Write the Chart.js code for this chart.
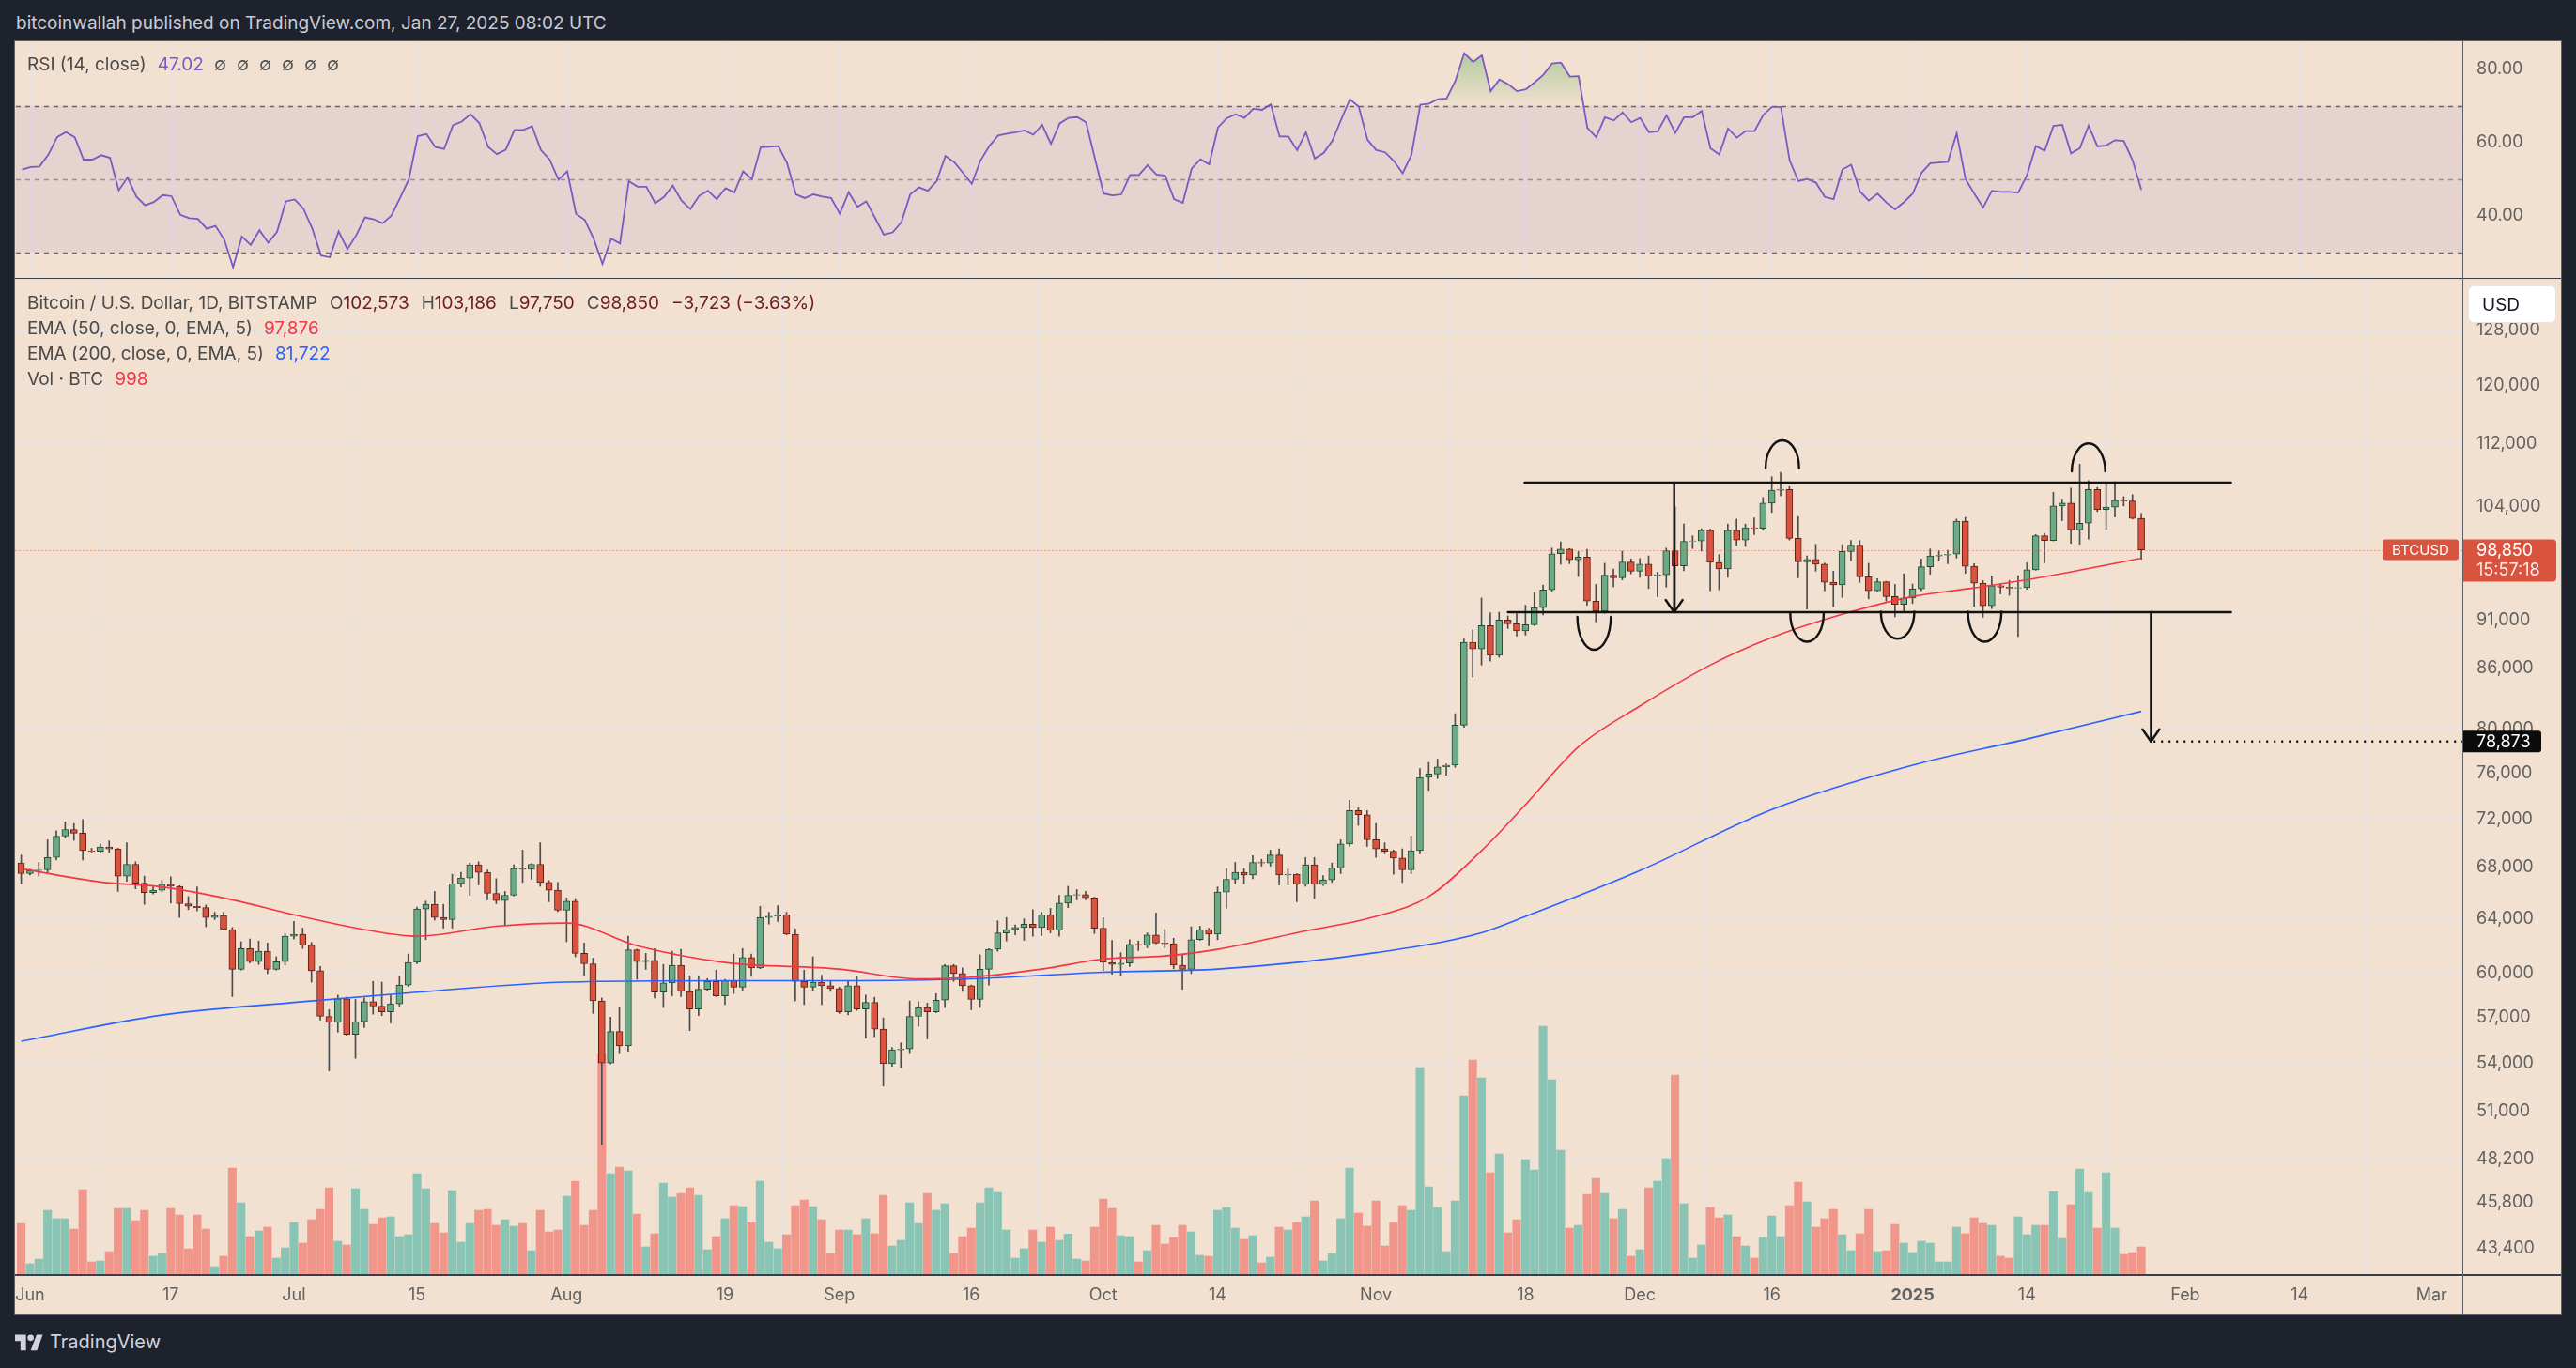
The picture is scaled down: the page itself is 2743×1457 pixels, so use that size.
<!DOCTYPE html>
<html>
<head>
<meta charset="utf-8">
<title>BTCUSD 1D</title>
<script src="https://cdn.jsdelivr.net/npm/chart.js@4.4.1/dist/chart.umd.min.js"></script>
<style>
  html, body { margin: 0; padding: 0; }
  body { width: 2743px; height: 1457px; background: #1e222d; position: relative; overflow: hidden; font-family: Inter, Roboto, sans-serif; }
  #header { position: absolute; left: 17px; top: 13px; font-size: 19px; color: #c9ccd6; white-space: nowrap; }
  #frame { position: absolute; left: 15px; top: 43px; width: 2711px; height: 1356px; background: #f2e0d0; border: 1px solid #5d606b; }
  canvas { position: absolute; left: 16px; }
  #rsiCanvas { top: 44px; }
  #priceCanvas { top: 297px; }
  .rule { position: absolute; background: #3b3e48; }
  .legend { position: absolute; left: 29px; font-size: 19px; color: #4a4a4a; white-space: nowrap; line-height: 27px; }
  .legend .val { margin-left: 12px; }
  .legend .ohlc { color: #6e1e1e; }
  .legend .gap { margin-left: 13px; }
  .na { margin-left: 11px; color: #555; }
  #logo { position: absolute; left: 16px; top: 1417px; display: flex; align-items: center; color: #d1d4dc; font-size: 20px; }
  #logo svg { margin-right: 7px; }
</style>
</head>
<body>
<div id="header">bitcoinwallah published on TradingView.com, Jan 27, 2025 08:02 UTC</div>
<div id="frame"></div>
<canvas id="rsiCanvas" width="2711" height="252"></canvas>
<canvas id="priceCanvas" width="2711" height="1103"></canvas>
<div class="rule" style="left:16px;top:296px;width:2711px;height:1px;"></div>
<div class="rule" style="left:16px;top:1357px;width:2711px;height:2px;"></div>
<div class="rule" style="left:2622px;top:44px;width:1px;height:1356px;background:#5d606b;"></div>

<div class="legend" style="top:56px;line-height:26px;">
  RSI (14, close)<span class="val" id="rsiVal" style="color:#7e57c2"></span><span id="rsiNa"></span>
</div>
<div class="legend" style="top:309px;">
  <div>Bitcoin / U.S. Dollar, 1D, BITSTAMP<span class="gap"></span><span id="ohlc"></span></div>
  <div>EMA (50, close, 0, EMA, 5)<span class="val" id="emaFastVal" style="color:#f23645"></span></div>
  <div>EMA (200, close, 0, EMA, 5)<span class="val" id="emaSlowVal" style="color:#2962ff"></span></div>
  <div>Vol · BTC<span class="val" id="volVal" style="color:#f23645"></span></div>
</div>
<div id="logo">
  <svg width="30" height="22" viewBox="0 0 36 26"><path d="M14 24H7V12H0V4h14v20z" fill="#d1d4dc"/><circle cx="20" cy="8" r="4" fill="#d1d4dc"/><path d="M28 24h-8l7.5-20h8L28 24z" fill="#d1d4dc"/></svg>
  <span>TradingView</span>
</div>

<script>
// ---- data: daily candles, first candle is May 31 2024 (day 0 = Jun 1 2024) ----
const firstDay = -1;

const opens = [
  68350,
  67500, 67750, 67800, 68800, 70550, 71100, 70800, 69350, 69300, 69650, 69500, 67300, 68250, 66750, 66000, 66200, 66650, 66500, 65150, 64950, 64850, 64100, 64250, 63200, 60300, 61800, 60850, 61600, 60300, 60850,
  62700, 62850, 62050, 60200, 57050, 56650, 58250, 55850, 56700, 58050, 57750, 57350, 57900, 59200, 60800, 64750, 65100, 64100, 63950, 66700, 67150, 68200, 67600, 65950, 65400, 65800, 67900, 67850, 68250, 66800, 66200,
  64650, 65350, 61450, 60700, 58100, 54000, 56050, 55100, 61700, 60850, 60950, 58700, 59350, 60600, 58750, 57550, 58900, 59450, 58450, 59500, 59050, 61150, 60400, 64100, 64200, 64300, 62850, 59450, 59050, 59400, 59150,
  58950, 57350, 59150, 57550, 58000, 56200, 53950, 54850, 54900, 57050, 57650, 57350, 58150, 60550, 60000, 59150, 58200, 60300, 61750, 62950, 63200, 63350, 63600, 63350, 64300, 63150, 65200, 65800, 65850, 65600,
  63300, 60800, 60650, 60750, 62100, 62050, 62800, 62200, 62150, 60600, 60300, 62450, 63200, 62850, 66050, 67050, 67600, 67400, 68400, 68350, 69000, 67400, 67450, 66650, 68200, 66650, 67000, 67950, 69900, 72700, 72350,
  70250, 69500, 69300, 68750, 67800, 69350, 75600, 75900, 76550, 76700, 80400, 88650, 87950, 90400, 87300, 91000, 90600, 89850, 90500, 92350, 94300, 98400, 98950, 97700, 98000, 93050, 91950, 95950, 95650, 97450,
  96400, 97200, 95850, 96000, 98750, 97000, 99850, 99900, 101150, 97400, 96650, 101150, 100000, 101450, 101400, 104450, 106050, 106150, 100200, 97450, 97750, 97200, 95150, 94850, 98650, 99400, 95750, 94200, 95200, 93550, 92700,
  93400, 94400, 96900, 98150, 98250, 98350, 102250, 96950, 95050, 92550, 94750, 94600, 94500, 94550, 96550, 100500, 99950, 104100, 104450, 101200, 102000, 106150, 103650, 103950, 104800, 104700, 102573
];
const highs = [
  69000,
  67850, 68400, 70250, 71000, 71750, 71600, 71950, 69550, 69900, 70150, 69550, 70000, 68450, 67300, 66450, 66950, 67250, 66550, 65700, 66450, 65050, 64500, 64500, 63350, 62300, 62500, 62350, 62200, 61200, 62900,
  63800, 63300, 62250, 60500, 57500, 58500, 58350, 58200, 58300, 59450, 59400, 58500, 59800, 61400, 64900, 65350, 66100, 65100, 67450, 67600, 68350, 68450, 67800, 67100, 66100, 68200, 69400, 68300, 70000, 66950, 66800,
  65600, 65550, 62200, 61100, 58300, 57000, 57700, 62700, 61750, 61450, 61800, 60650, 61600, 61750, 59850, 59800, 59650, 60250, 59600, 61400, 61800, 61400, 64950, 64500, 65000, 64500, 63250, 60250, 61200, 59900, 59450,
  59050, 59450, 59800, 58500, 58350, 56950, 55000, 55300, 58100, 58050, 57950, 58600, 60650, 60650, 60400, 59200, 61350, 61800, 63850, 64100, 63550, 64000, 64700, 64500, 64800, 65800, 66500, 66250, 66100, 65650,
  64100, 62400, 61500, 62450, 62350, 62950, 64450, 63200, 62550, 61350, 63400, 63450, 63300, 66450, 67900, 68400, 67900, 68950, 68650, 69400, 69500, 67850, 67500, 68800, 68800, 67350, 68350, 70250, 73600, 72950, 72700,
  71600, 70000, 69400, 69500, 70550, 76400, 76950, 77250, 76800, 81500, 89000, 89950, 93400, 91800, 91850, 91450, 91700, 92600, 94000, 94850, 99050, 99800, 99000, 98650, 98900, 94900, 97300, 96650, 98700, 97800,
  97850, 98150, 96300, 99050, 104000, 101900, 100500, 101350, 101300, 98300, 101900, 102500, 101900, 102650, 105150, 107750, 108300, 106500, 102800, 98150, 99500, 97300, 96400, 99450, 99950, 99950, 97300, 95550, 95250, 94900, 96100,
  94950, 97800, 98950, 98750, 98800, 102500, 102700, 97250, 95350, 95850, 94950, 95350, 95900, 97350, 100650, 100800, 105800, 104950, 106300, 109350, 107250, 106400, 106800, 107100, 105250, 105500, 103186
];
const lows = [
  66700,
  67400, 67300, 67600, 68600, 70400, 70200, 68600, 69200, 69150, 69200, 66100, 66900, 66300, 65100, 65900, 66050, 65200, 64100, 64700, 64600, 63400, 63950, 63150, 58400, 60250, 60750, 60650, 60000, 60250, 60600,
  62500, 61800, 59400, 56800, 53500, 56000, 55800, 54300, 56300, 57200, 57100, 56600, 57750, 59100, 60700, 62450, 63900, 63300, 63300, 66450, 65800, 66600, 65450, 65150, 63500, 65750, 66800, 67050, 66500, 65300, 64550,
  62300, 61200, 59850, 57250, 49050, 53950, 54600, 54750, 59600, 60300, 58300, 57650, 58450, 58400, 56100, 57100, 58800, 58400, 57850, 58600, 58800, 59800, 60350, 63600, 63800, 62800, 58100, 57850, 58800, 57850, 58750,
  57250, 57150, 57450, 55600, 55700, 52550, 53800, 53700, 54600, 56400, 55550, 57300, 57650, 59450, 58750, 57500, 57650, 59200, 61600, 62350, 62800, 62400, 62700, 62750, 62950, 62700, 64850, 65450, 65450, 62900,
  60200, 59950, 59850, 60500, 61650, 61850, 62150, 61850, 60350, 58900, 60000, 62400, 62000, 62450, 64800, 66700, 66700, 67100, 68100, 68100, 66600, 66600, 65300, 66500, 65550, 66550, 66800, 67500, 69700, 71450, 69700,
  68800, 69100, 67450, 66800, 67500, 69100, 74450, 75500, 75800, 76500, 80200, 85100, 86300, 86700, 87100, 90100, 89300, 89400, 90400, 91550, 94150, 97200, 97250, 95800, 92600, 90800, 91750, 94650, 95400, 96100,
  95700, 94450, 93550, 94600, 92200, 96450, 99000, 98700, 94200, 94300, 95700, 99350, 99250, 100650, 101250, 103300, 105350, 100000, 95650, 92200, 96400, 94200, 92450, 93450, 97600, 95150, 93300, 94150, 93050, 91350, 92000,
  92800, 94200, 96050, 97550, 97250, 97900, 96150, 92500, 91300, 92250, 93850, 93700, 89250, 94350, 96500, 97350, 99900, 102300, 99600, 99500, 100100, 103400, 101250, 102750, 104100, 102500, 97750
];
const closes = [
  67500,
  67750, 67800, 68800, 70550, 71100, 70800, 69350, 69300, 69650, 69500, 67300, 68250, 66750, 66000, 66200, 66650, 66500, 65150, 64950, 64850, 64100, 64250, 63200, 60300, 61800, 60850, 61600, 60300, 60850, 62700,
  62850, 62050, 60200, 57050, 56650, 58250, 55850, 56700, 58050, 57750, 57350, 57900, 59200, 60800, 64750, 65100, 64100, 63950, 66700, 67150, 68200, 67600, 65950, 65400, 65800, 67900, 67850, 68250, 66800, 66200, 64650,
  65350, 61450, 60700, 58100, 54000, 56050, 55100, 61700, 60850, 60950, 58700, 59350, 60600, 58750, 57550, 58900, 59450, 58450, 59500, 59050, 61150, 60400, 64100, 64200, 64300, 62850, 59450, 59050, 59400, 59150, 58950,
  57350, 59150, 57550, 58000, 56200, 53950, 54850, 54900, 57050, 57650, 57350, 58150, 60550, 60000, 59150, 58200, 60300, 61750, 62950, 63200, 63350, 63600, 63350, 64300, 63150, 65200, 65800, 65850, 65600, 63300,
  60800, 60650, 60750, 62100, 62050, 62800, 62200, 62150, 60600, 60300, 62450, 63200, 62850, 66050, 67050, 67600, 67400, 68400, 68350, 69000, 67400, 67450, 66650, 68200, 66650, 67000, 67950, 69900, 72700, 72350, 70250,
  69500, 69300, 68750, 67800, 69350, 75600, 75900, 76550, 76700, 80400, 88650, 87950, 90400, 87300, 91000, 90600, 89850, 90500, 92350, 94300, 98400, 98950, 97700, 98000, 93050, 91950, 95950, 95650, 97450, 96400,
  97200, 95850, 96000, 98750, 97000, 99850, 99900, 101150, 97400, 96650, 101150, 100000, 101450, 101400, 104450, 106050, 106150, 100200, 97450, 97750, 97200, 95150, 94850, 98650, 99400, 95750, 94200, 95200, 93550, 92700, 93400,
  94400, 96900, 98150, 98250, 98350, 102250, 96950, 95050, 92550, 94750, 94600, 94500, 94550, 96550, 100500, 99950, 104100, 104450, 101200, 102000, 106150, 103650, 103950, 104800, 104700, 102573, 98850
];

// volume in BTC, same days
const volumes = [
  1858,
  379, 551, 2340, 2030, 2030, 1652, 3097, 447, 482, 826, 2409, 2409, 1961, 2340, 654, 757, 2409, 2168, 929, 2168, 1652, 275, 654, 3888, 2615, 1376, 1583, 1721, 585, 963,
  1893, 1136, 1996, 2374, 3166, 1204, 1067, 3131, 2374, 1824, 2065, 2099, 1376, 1445, 3682, 3131, 1858, 1514, 3062, 1170, 1858, 2340, 2374, 1789, 1996, 1755, 1858, 860, 2340, 1548, 1617,
  2856, 3407, 1789, 2340, 8052, 3682, 3923, 3785, 2202, 998, 1480, 3338, 2822, 2959, 3166, 2890, 895, 1376, 2030, 2512, 2478, 1893, 3407, 1170, 929, 1445, 2512, 2718, 2478, 1996, 757,
  1617, 1617, 1445, 2030, 1480, 2890, 1032, 1239, 2615, 1858, 2959, 2340, 2581, 757, 1376, 1686, 2615, 3166, 2994, 1617, 585, 929, 1617, 1170, 1721, 1239, 1468, 551, 482, 1721,
  2753, 2409, 1411, 1376, 447, 860, 1789, 1101, 1342, 1789, 1548, 688, 654, 2340, 2443, 1686, 1273, 1411, 413, 619, 1721, 1617, 1893, 2099, 2684, 482, 757, 2030, 3888, 2237, 1755,
  2684, 1032, 1893, 2512, 2340, 7570, 3200, 2443, 826, 2684, 6538, 7845, 7192, 3716, 4404, 1514, 1996, 4198, 3820, 9084, 7123, 4542, 1686, 1789, 2925, 3510, 2959, 2030, 2374, 654,
  895, 3166, 3407, 4232, 7295, 2581, 585, 1067, 2443, 2065, 2168, 1376, 1032, 585, 1342, 2133, 1376, 2512, 3372, 2650, 1721, 2030, 2374, 1445, 860, 1480, 2374, 826, 860, 1824, 1136,
  791, 1204, 1136, 447, 447, 1721, 1480, 2065, 1858, 1789, 654, 585, 2099, 1445, 1789, 1789, 3028, 1308, 2546, 3854, 2994, 1686, 3716, 1686, 723, 791, 998
];

// RSI (14) per day
const rsiValues = [
  52.6, 53.3, 53.4, 56.7, 61.5, 62.8, 61.4, 55.3, 55.3, 56.5, 55.8,
  46.9, 50.4, 45.2, 42.8, 43.7, 45.6, 45.3, 40.2, 39.3, 39.1,
  36.4, 37.2, 33.4, 25.9, 34.3, 32.0, 36.0, 32.6, 35.6, 43.9,
  44.4, 41.9, 36.5, 29.1, 28.6, 35.7, 30.8, 34.6, 39.5, 39.0,
  37.9, 40.0, 44.9, 50.0, 61.7, 62.3, 58.7, 58.2, 64.7, 65.7,
  67.7, 65.3, 58.8, 56.8, 58.0, 63.4, 63.4, 64.4, 57.9, 55.3,
  49.8, 52.1, 40.5, 38.8, 33.7, 26.8, 33.7, 32.4, 49.4, 47.9,
  47.9, 43.4, 45.1, 48.2, 44.1, 41.8, 45.4, 46.8, 44.5, 47.5,
  46.3, 52.1, 50.0, 58.7, 58.8, 59.0, 54.3, 45.8, 44.8, 45.8,
  45.2, 44.8, 40.5, 46.4, 42.4, 43.9, 39.4, 34.8, 35.4, 38.2,
  45.8, 47.7, 46.8, 49.4, 56.3, 54.6, 51.7, 48.7, 55.1, 59.0,
  61.9, 62.4, 62.8, 63.3, 62.1, 64.8, 59.6, 65.2, 66.7, 66.9,
  65.5, 55.6, 46.0, 45.5, 45.8, 51.1, 51.1, 53.8, 51.2, 50.9,
  44.5, 43.5, 52.8, 55.4, 54.0, 64.1, 66.6, 67.7, 66.7, 69.2,
  68.9, 70.4, 61.6, 61.6, 57.9, 62.8, 55.6, 57.1, 60.4, 66.2,
  71.8, 69.8, 60.7, 57.9, 57.3, 54.9, 51.6, 56.6, 70.3, 70.6,
  71.8, 72.0, 76.9, 84.4, 82.0, 83.8, 74.0, 77.2, 75.9, 74.0,
  74.5, 76.4, 78.5, 81.6, 81.8, 78.0, 78.1, 64.0, 61.4, 66.9,
  66.0, 68.2, 65.5, 66.7, 62.8, 63.0, 67.4, 62.6, 66.9, 66.9,
  68.6, 58.4, 56.7, 63.8, 61.3, 63.1, 63.1, 67.5, 69.7, 69.7,
  55.1, 49.4, 50.0, 49.0, 45.1, 44.5, 52.6, 53.9, 46.6, 44.1,
  46.0, 43.6, 41.7, 43.7, 46.0, 51.7, 54.3, 54.5, 54.7, 62.5,
  50.0, 46.0, 42.2, 46.8, 46.5, 46.5, 46.3, 51.1, 59.0, 57.7,
  64.5, 64.8, 57.0, 58.4, 64.6, 58.9, 59.2, 60.6, 60.4, 55.1, 47.02
];

// moving averages (day, value)
const emaFastDays = [-1, 8, 15, 23, 30, 38, 44, 53, 61, 69, 79, 92, 101, 107, 115, 122, 129, 135, 144, 153, 159, 165, 170, 176, 183, 191, 198, 206, 214, 221, 227, 234, 240];
const emaFastValues = [67900, 66840, 66450, 65450, 64310, 63200, 62700, 63440, 63680, 62000, 60790, 60320, 59630, 59750, 60320, 61030, 61260, 61740, 62960, 64180, 65700, 69340, 73210, 78360, 82230, 86300, 89150, 91620, 93560, 94520, 95420, 96700, 97876];
const emaSlowDays = [-1, 15, 30, 44, 61, 79, 92, 107, 122, 135, 153, 165, 170, 183, 198, 214, 227, 240];
const emaSlowValues = [55400, 57140, 58000, 58700, 59400, 59500, 59500, 59630, 60100, 60320, 61500, 62960, 64180, 67740, 72800, 76700, 79100, 81722];

// axes
const timeTickDays = [0, 16, 30, 44, 61, 79, 92, 107, 122, 135, 153, 170, 183, 198, 214, 227, 245, 258, 273];
const timeTickLabels = ['Jun', '17', 'Jul', '15', 'Aug', '19', 'Sep', '16', 'Oct', '14', 'Nov', '18', 'Dec', '16', '2025', '14', 'Feb', '14', 'Mar'];
const yearTickDay = 214;
const priceTicks = [43400, 45800, 48200, 51000, 54000, 57000, 60000, 64000, 68000, 72000, 76000, 80000, 86000, 91000, 98000, 104000, 112000, 120000, 128000];
const rsiTicks = [40, 60, 80];
const rsiLevels = [70, 50, 30];

// hand-drawn pattern (day, price)
const rangeLines = [
  { from: 169.9, to: 250.2, price: 107000 },
  { from: 168.0, to: 250.2, price: 91850 }
];
const measureArrows = [
  { day: 186.9, from: 107000, to: 91850 },
  { day: 241.1, from: 91850, to: 78873 }
];
const targetLevel = { from: 241.4, price: 78873 };
const capArcs = [
  { day: 199.2, half: 1.9, base: 108840, peak: 112460 },
  { day: 234.0, half: 1.9, base: 108430, peak: 112050 }
];
const cupArcs = [
  { day: 177.8, half: 1.9, base: 91350, trough: 87870 },
  { day: 202.0, half: 1.9, base: 91730, trough: 88700 },
  { day: 212.3, half: 1.9, base: 91900, trough: 89020 },
  { day: 222.2, half: 1.9, base: 91900, trough: 88700 }
];
const countdown = '15:57:18';

// ---- style ----
const FONT = 'Inter, Roboto, sans-serif';
const AXIS_TEXT = '#626262';
const GRID = 'rgba(225,228,240,0.55)';
const UP_BODY = '#6ca987', UP_BORDER = '#1f4a31';
const DOWN_BODY = '#d9533f', DOWN_BORDER = '#5e1e14';
const WICK = '#4d4d4d';
const VOL_UP = '#8ac4b5', VOL_DOWN = '#f1968a';
const xMin = -1.7, xMax = 276.5;
const AXIS_W = 105;

Chart.defaults.font.family = FONT;
Chart.defaults.animation = false;

const fmt = (v) => Math.round(v).toLocaleString('en-US');
const days = closes.map((_, i) => firstDay + i);
const isUp = (i) => closes[i] >= opens[i];

// legends
const last = closes.length - 1;
const change = closes[last] - closes[last - 1];
const pct = (change / closes[last - 1]) * 100;
document.getElementById('rsiVal').textContent = rsiValues[last].toFixed(2);
document.getElementById('rsiNa').innerHTML = Array(6).fill('<span class="na">\u2205</span>').join('');
document.getElementById('ohlc').innerHTML =
  'O<span class="ohlc">' + fmt(opens[last]) + '</span><span class="gap"></span>' +
  'H<span class="ohlc">' + fmt(highs[last]) + '</span><span class="gap"></span>' +
  'L<span class="ohlc">' + fmt(lows[last]) + '</span><span class="gap"></span>' +
  'C<span class="ohlc">' + fmt(closes[last]) + '</span><span class="gap"></span>' +
  '<span class="ohlc">' + (change < 0 ? '\u2212' : '+') + fmt(Math.abs(change)) + ' (' + (pct < 0 ? '\u2212' : '+') + Math.abs(pct).toFixed(2) + '%)</span>';
document.getElementById('emaFastVal').textContent = fmt(emaFastValues[emaFastValues.length - 1]);
document.getElementById('emaSlowVal').textContent = fmt(emaSlowValues[emaSlowValues.length - 1]);
document.getElementById('volVal').textContent = fmt(volumes[last]);

// shared time axis
const timeAxis = (showLabels) => ({
  type: 'linear',
  min: xMin,
  max: xMax,
  offset: false,
  afterBuildTicks: (axis) => { axis.ticks = timeTickDays.map((v) => ({ value: v })); },
  afterFit: (axis) => {
    axis.height = showLabels ? 43 : 0;
    axis.paddingLeft = 0; axis.paddingRight = 0;
  },
  grid: { color: GRID, drawTicks: false },
  border: { display: false },
  ticks: {
    display: showLabels,
    autoSkip: false,
    maxRotation: 0,
    padding: 12,
    color: AXIS_TEXT,
    font: (ctx) => ({ family: FONT, size: 18, weight: ctx.tick && ctx.tick.value === yearTickDay ? '700' : '400' }),
    callback: (v) => timeTickLabels[timeTickDays.indexOf(v)] ?? ''
  }
});

// ---- RSI pane ----
const rsiBands = {
  id: 'rsiBands',
  beforeDatasetsDraw(chart) {
    const { ctx, chartArea: a, scales: { y } } = chart;
    const top = y.getPixelForValue(rsiLevels[0]);
    const bottom = y.getPixelForValue(rsiLevels[2]);
    ctx.save();
    ctx.fillStyle = 'rgba(126,87,194,0.1)';
    ctx.fillRect(a.left, top, a.width, bottom - top);
    ctx.lineWidth = 1.5;
    rsiLevels.forEach((lvl, i) => {
      ctx.strokeStyle = i === 1 ? 'rgba(120,123,134,0.75)' : '#62646f';
      ctx.setLineDash([5, 5]);
      const py = Math.round(y.getPixelForValue(lvl)) + 0.5;
      ctx.beginPath(); ctx.moveTo(a.left, py); ctx.lineTo(a.right, py); ctx.stroke();
    });
    ctx.restore();
  }
};

const rsiChart = new Chart(document.getElementById('rsiCanvas'), {
  type: 'line',
  data: {
    datasets: [{
      data: days.map((d, i) => ({ x: d, y: rsiValues[i] })),
      borderColor: '#7e57c2',
      borderWidth: 1.8,
      pointRadius: 0,
      tension: 0,
      fill: false
    }]
  },
  options: {
    responsive: false,
    layout: { padding: 0 },
    plugins: { legend: { display: false }, tooltip: { enabled: false } },
    scales: {
      x: timeAxis(false),
      y: {
        position: 'right',
        min: 23.2,
        max: 87.4,
        afterBuildTicks: (axis) => { axis.ticks = rsiTicks.map((v) => ({ value: v })); },
        afterFit: (axis) => { axis.width = AXIS_W; axis.paddingTop = 0; axis.paddingBottom = 0; },
        grid: { color: GRID, drawTicks: false },
        border: { display: false },
        ticks: { padding: 15, color: AXIS_TEXT, font: { size: 18 }, callback: (v) => Number(v).toFixed(2) }
      }
    }
  },
  plugins: [rsiBands]
});

// overbought fill: green gradient above the 70 line
{
  const y = rsiChart.scales.y;
  const g = rsiChart.ctx.createLinearGradient(0, y.getPixelForValue(86), 0, y.getPixelForValue(rsiLevels[0]));
  g.addColorStop(0, 'rgba(76,175,80,0.45)');
  g.addColorStop(1, 'rgba(76,175,80,0)');
  rsiChart.data.datasets[0].fill = { target: { value: rsiLevels[0] }, above: g, below: 'rgba(0,0,0,0)' };
  rsiChart.update('none');
}

// ---- price pane ----
const drawings = {
  id: 'drawings',
  afterDatasetsDraw(chart) {
    const { ctx, chartArea: a, scales: { x, y } } = chart;
    const px = (d) => x.getPixelForValue(d);
    const py = (p) => y.getPixelForValue(p);
    const seg = (x0, y0, x1, y1) => { ctx.beginPath(); ctx.moveTo(x0, y0); ctx.lineTo(x1, y1); ctx.stroke(); };
    ctx.save();
    ctx.beginPath(); ctx.rect(a.left, a.top, a.width, a.height); ctx.clip();

    // last price line
    ctx.strokeStyle = 'rgba(217,83,63,0.45)';
    ctx.lineWidth = 1;
    ctx.setLineDash([2, 2]);
    const lp = Math.round(py(closes[last])) + 0.5;
    seg(a.left, lp, a.right, lp);
    ctx.setLineDash([]);

    ctx.strokeStyle = '#121212';
    ctx.lineWidth = 2.4;
    ctx.lineCap = 'round';
    rangeLines.forEach((l) => seg(px(l.from), py(l.price), px(l.to), py(l.price)));
    measureArrows.forEach((ar) => {
      const x0 = px(ar.day), y0 = py(ar.from), y1 = py(ar.to);
      seg(x0, y0, x0, y1);
      seg(x0 - 9, y1 - 13, x0, y1);
      seg(x0 + 9, y1 - 13, x0, y1);
    });
    capArcs.forEach((c) => {
      const cx = px(c.day), rx = px(c.day + c.half) - cx, by = py(c.base), ry = by - py(c.peak);
      ctx.beginPath(); ctx.ellipse(cx, by, rx, ry, 0, Math.PI, 2 * Math.PI); ctx.stroke();
    });
    cupArcs.forEach((c) => {
      const cx = px(c.day), rx = px(c.day + c.half) - cx, ty = py(c.base), ry = py(c.trough) - ty;
      ctx.beginPath(); ctx.ellipse(cx, ty, rx, ry, 0, 0, Math.PI); ctx.stroke();
    });
    ctx.setLineDash([2, 6]);
    ctx.lineCap = 'butt';
    ctx.lineWidth = 2.5;
    seg(px(targetLevel.from), py(targetLevel.price), a.right, py(targetLevel.price));
    ctx.restore();
  },
  afterDraw(chart) {
    const { ctx, chartArea: a, scales: { y } } = chart;
    const ax = a.right;
    const box = (x0, y0, w, h, r, fill, stroke) => {
      ctx.beginPath(); ctx.roundRect(x0, y0, w, h, r); ctx.fillStyle = fill; ctx.fill();
      if (stroke) { ctx.strokeStyle = stroke; ctx.lineWidth = 1; ctx.stroke(); }
    };
    ctx.save();
    ctx.textBaseline = 'middle';

    // currency tag
    box(ax + 6.5, 7.5, 93, 39, 6, '#ffffff', '#e3e5ec');
    ctx.fillStyle = '#131722'; ctx.font = '19px ' + FONT; ctx.textAlign = 'left';
    ctx.fillText('USD', ax + 21, 28);

    // last price
    const yc = y.getPixelForValue(closes[last]);
    box(ax - 85, yc - 11, 81, 22, 3, '#d9533f');
    ctx.fillStyle = '#ffffff'; ctx.font = '15px ' + FONT; ctx.textAlign = 'center';
    ctx.fillText('BTCUSD', ax - 44.5, yc + 0.5);
    box(ax, yc - 11, 100, 45, [0, 4, 4, 0], '#d9533f');
    ctx.font = '18px ' + FONT; ctx.textAlign = 'left';
    ctx.fillStyle = '#ffffff';
    ctx.fillText(fmt(closes[last]), ax + 15, yc + 1);
    ctx.fillStyle = 'rgba(255,255,255,0.9)';
    ctx.fillText(countdown, ax + 15, yc + 22);

    // target tag
    const yt = y.getPixelForValue(targetLevel.price);
    box(ax, yt - 11.5, 84, 23, [0, 3, 3, 0], '#0b0b0b');
    ctx.fillStyle = '#ffffff';
    ctx.fillText(fmt(targetLevel.price), ax + 15, yt + 1);
    ctx.restore();
  }
};

new Chart(document.getElementById('priceCanvas'), {
  type: 'bar',
  data: {
    datasets: [
      {
        type: 'line',
        data: emaFastDays.map((d, i) => ({ x: d, y: emaFastValues[i] })),
        borderColor: '#f23645', borderWidth: 1.6, pointRadius: 0,
        cubicInterpolationMode: 'monotone', yAxisID: 'y', order: 1
      },
      {
        type: 'line',
        data: emaSlowDays.map((d, i) => ({ x: d, y: emaSlowValues[i] })),
        borderColor: '#2962ff', borderWidth: 1.6, pointRadius: 0,
        cubicInterpolationMode: 'monotone', yAxisID: 'y', order: 2
      },
      {
        data: days.map((d, i) => ({ x: d, y: [opens[i], closes[i]] })),
        backgroundColor: (c) => (isUp(c.dataIndex) ? UP_BODY : DOWN_BODY),
        borderColor: (c) => (isUp(c.dataIndex) ? UP_BORDER : DOWN_BORDER),
        borderWidth: 1, borderSkipped: false, barThickness: 7, grouped: false,
        yAxisID: 'y', order: 3
      },
      {
        data: days.map((d, i) => ({ x: d, y: [lows[i], highs[i]] })),
        backgroundColor: WICK, barThickness: 1, grouped: false,
        yAxisID: 'y', order: 4
      },
      {
        data: days.map((d, i) => ({ x: d, y: volumes[i] })),
        backgroundColor: (c) => (isUp(c.dataIndex) ? VOL_UP : VOL_DOWN),
        barThickness: 8.4, grouped: false,
        yAxisID: 'vol', order: 5
      }
    ]
  },
  options: {
    responsive: false,
    layout: { padding: 0 },
    plugins: { legend: { display: false }, tooltip: { enabled: false } },
    scales: {
      x: timeAxis(true),
      y: {
        type: 'logarithmic',
        position: 'right',
        min: 42111,
        max: 136030,
        afterBuildTicks: (axis) => { axis.ticks = priceTicks.map((v) => ({ value: v })); },
        afterFit: (axis) => { axis.width = AXIS_W; axis.paddingTop = 0; axis.paddingBottom = 0; },
        grid: { color: GRID, drawTicks: false },
        border: { display: false },
        ticks: { padding: 15, color: AXIS_TEXT, font: { size: 18 }, callback: (v) => Number(v).toLocaleString('en-US') }
      },
      vol: { display: false, min: 0, max: 36500 }
    }
  },
  plugins: [drawings]
});
</script>
</body>
</html>
